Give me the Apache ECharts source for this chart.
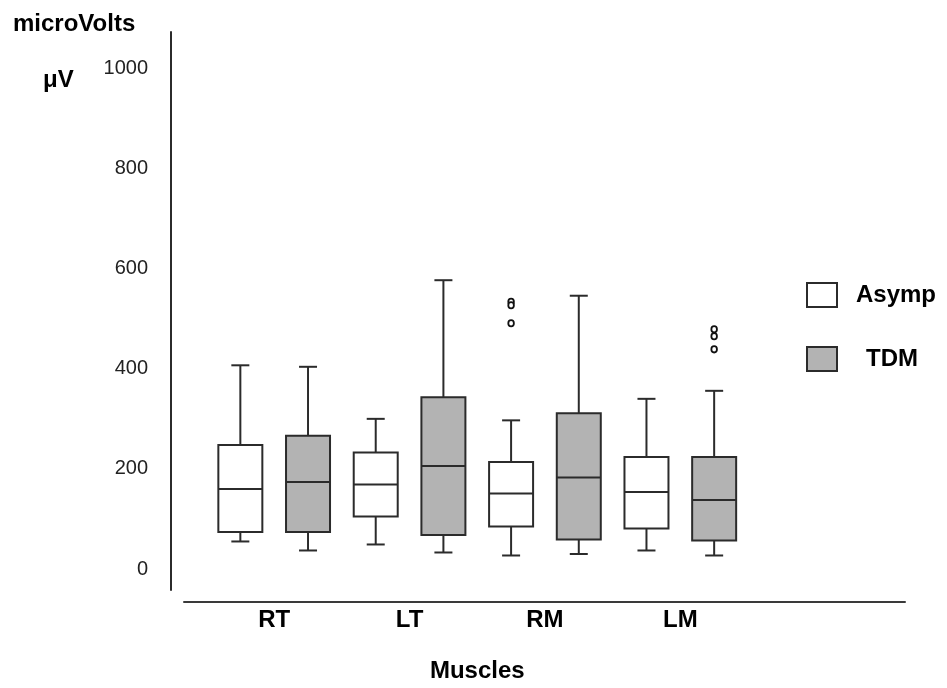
<!DOCTYPE html>
<html>
<head>
<meta charset="utf-8">
<script src="https://cdn.jsdelivr.net/npm/echarts@6/dist/echarts.min.js"></script>
<style>html,body{margin:0;padding:0;background:#fff;}#chart{width:947px;height:688px;}</style>
</head>
<body>
<div id="chart"></div>
<script>
// ---- data ----
const categories = ['RT', 'LT', 'RM', 'LM'];
const yTicks = [0, 200, 400, 600, 800, 1000];
// [low whisker, Q1, median, Q3, high whisker] per category
const asympStats = [
  [55, 74, 160, 248, 407],
  [49, 105, 169, 233, 300],
  [27, 85, 151, 214, 297],
  [37, 81, 154, 224, 340]
];
const tdmStats = [
  [37, 74, 174, 266, 404],
  [33, 68, 206, 343, 577],
  [30, 59, 183, 311, 546],
  [27, 57, 138, 224, 356]
];
// outliers: [category index, value]
const asympOutliers = [[2, 534], [2, 527], [2, 491]];
const tdmOutliers = [[3, 479], [3, 465], [3, 439]];

// ---- styles ----
const EDGE = '#2b2b2b';
const ASYMP_FILL = '#ffffff';
const TDM_FILL = '#b3b3b3';

function boxRenderer(offsetFrac, fill) {
  return function (params, api) {
    const cat = api.value(0);
    const band = api.size([1, 0])[0];
    const cx = api.coord([cat, 0])[0] + band * offsetFrac;
    const yLow = api.coord([cat, api.value(1)])[1];
    const yQ1 = api.coord([cat, api.value(2)])[1];
    const yMed = api.coord([cat, api.value(3)])[1];
    const yQ3 = api.coord([cat, api.value(4)])[1];
    const yHigh = api.coord([cat, api.value(5)])[1];
    const bw = band * 0.325;
    const cw = band * 0.133;
    const ls = { stroke: EDGE, lineWidth: 2 };
    return {
      type: 'group',
      children: [
        { type: 'line', shape: { x1: cx, y1: yHigh, x2: cx, y2: yQ3 }, style: ls },
        { type: 'line', shape: { x1: cx - cw / 2, y1: yHigh, x2: cx + cw / 2, y2: yHigh }, style: ls },
        { type: 'line', shape: { x1: cx, y1: yQ1, x2: cx, y2: yLow }, style: ls },
        { type: 'line', shape: { x1: cx - cw / 2, y1: yLow, x2: cx + cw / 2, y2: yLow }, style: ls },
        { type: 'rect', shape: { x: cx - bw / 2, y: yQ3, width: bw, height: yQ1 - yQ3 }, style: { fill: fill, stroke: EDGE, lineWidth: 2 } },
        { type: 'line', shape: { x1: cx - bw / 2, y1: yMed, x2: cx + bw / 2, y2: yMed }, style: ls }
      ]
    };
  };
}
function outlierRenderer(offsetFrac) {
  return function (params, api) {
    const cat = api.value(0);
    const band = api.size([1, 0])[0];
    const p = api.coord([cat, api.value(1)]);
    return {
      type: 'ellipse',
      shape: { cx: p[0] + band * offsetFrac, cy: p[1], rx: 2.8, ry: 3.2 },
      style: { fill: '#fff', stroke: '#111', lineWidth: 1.8 }
    };
  };
}

const chart = echarts.init(document.getElementById('chart'), null, { renderer: 'canvas' });
const boldFont = { fontFamily: 'Liberation Sans, Arial, sans-serif', fontWeight: 'bold', fontSize: 24, color: '#000' };

chart.setOption({
  animation: false,
  backgroundColor: '#fff',
  title: [
    { text: 'microVolts', left: 13, top: 12, padding: 0, textStyle: boldFont },
    { text: 'μV', left: 43, top: 68, padding: 0, textStyle: boldFont }
  ],
  legend: {
    orient: 'vertical',
    left: 806,
    top: 282,
    itemWidth: 30,
    itemHeight: 24,
    itemGap: 38,
    padding: 0,
    selectedMode: false,
    textStyle: Object.assign({}, boldFont),
    data: [
      { name: 'Asymp', icon: 'rect', itemStyle: { color: ASYMP_FILL, borderColor: EDGE, borderWidth: 2 }, textStyle: { padding: [4, 0, 0, 14] } },
      { name: 'TDM', icon: 'rect', itemStyle: { color: TDM_FILL, borderColor: EDGE, borderWidth: 2 }, textStyle: { padding: [0, 0, 0, 24] } }
    ]
  },
  grid: [
    { left: 206.5, right: 199, top: 68.5, bottom: 112 },
    { left: 171, top: 32, width: 2, height: 558 },
    { left: 184, right: 42, bottom: 86, height: 10 }
  ],
  xAxis: [
    {
      type: 'category', gridIndex: 0, data: categories, boundaryGap: true,
      axisLine: { show: false }, axisTick: { show: false },
      axisLabel: Object.assign({ margin: 39 }, boldFont),
      name: 'Muscles', nameLocation: 'middle', nameGap: 90,
      nameTextStyle: Object.assign({}, boldFont)
    },
    { type: 'value', gridIndex: 1, show: false, min: 0, max: 1 },
    {
      type: 'value', gridIndex: 2, min: 0, max: 1, position: 'bottom',
      axisLine: { show: true, lineStyle: { color: '#3a3a3a', width: 2 } },
      axisTick: { show: false }, axisLabel: { show: false }, splitLine: { show: false }
    }
  ],
  yAxis: [
    {
      type: 'value', gridIndex: 0, min: yTicks[0], max: yTicks[yTicks.length - 1], interval: 200,
      axisLine: { show: false }, axisTick: { show: false }, splitLine: { show: false },
      axisLabel: {
        margin: 58.5, fontFamily: 'Liberation Sans, Arial, sans-serif', fontSize: 20, color: '#222',
        formatter: function (v) { return String(v); }
      }
    },
    {
      type: 'value', gridIndex: 1, min: 0, max: 1, position: 'left',
      axisLine: { show: true, lineStyle: { color: '#2b2b2b', width: 2 } },
      axisTick: { show: false }, axisLabel: { show: false }, splitLine: { show: false }
    },
    { type: 'value', gridIndex: 2, show: false, min: 0, max: 1 }
  ],
  series: [
    {
      name: 'Asymp', type: 'custom', xAxisIndex: 0, yAxisIndex: 0,
      itemStyle: { color: ASYMP_FILL, borderColor: EDGE, borderWidth: 2 },
      renderItem: boxRenderer(-0.25, ASYMP_FILL),
      encode: { x: 0, y: [1, 2, 3, 4, 5] },
      data: asympStats.map((s, i) => [i].concat(s))
    },
    {
      name: 'TDM', type: 'custom', xAxisIndex: 0, yAxisIndex: 0,
      itemStyle: { color: TDM_FILL, borderColor: EDGE, borderWidth: 2 },
      renderItem: boxRenderer(0.25, TDM_FILL),
      encode: { x: 0, y: [1, 2, 3, 4, 5] },
      data: tdmStats.map((s, i) => [i].concat(s))
    },
    {
      name: 'Asymp outliers', type: 'custom', xAxisIndex: 0, yAxisIndex: 0,
      renderItem: outlierRenderer(-0.25),
      encode: { x: 0, y: 1 },
      data: asympOutliers
    },
    {
      name: 'TDM outliers', type: 'custom', xAxisIndex: 0, yAxisIndex: 0,
      renderItem: outlierRenderer(0.25),
      encode: { x: 0, y: 1 },
      data: tdmOutliers
    }
  ]
});
</script>
</body>
</html>
